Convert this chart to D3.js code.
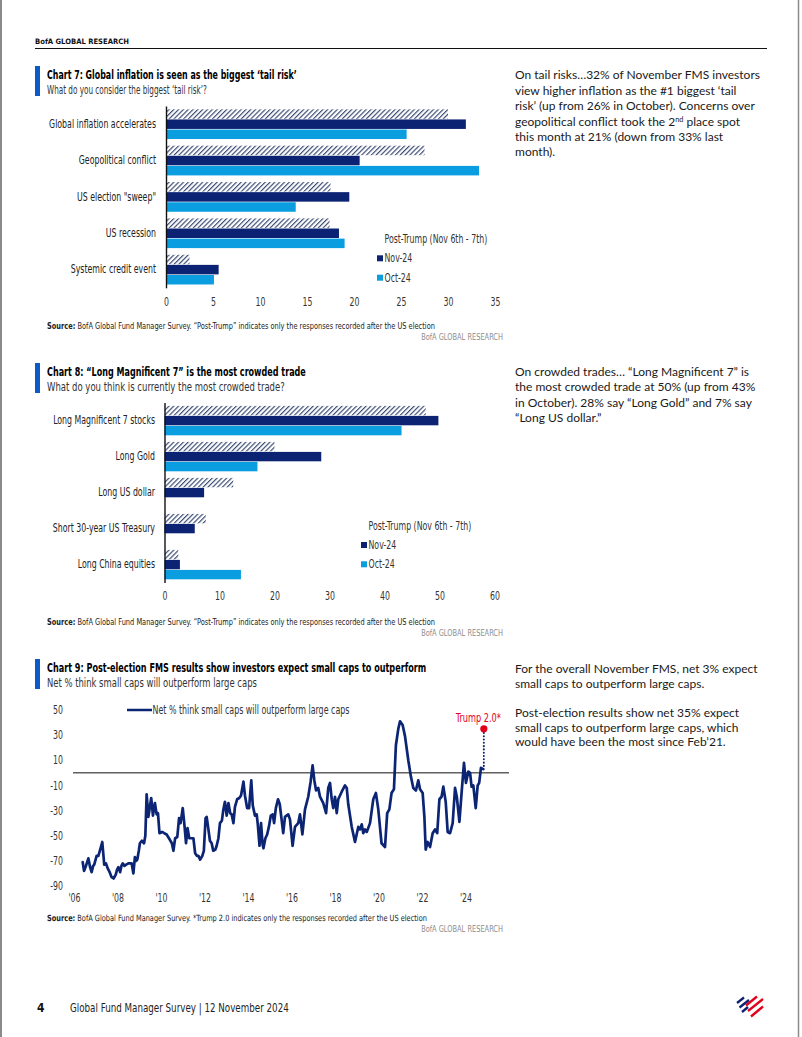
<!DOCTYPE html>
<html><head><meta charset="utf-8">
<script src="https://cdn.jsdelivr.net/npm/d3@7"></script>
<style>
body{margin:0;background:#fff;}
svg{display:block;}
</style></head>
<body><svg id="page" width="802" height="1037"></svg>
<script>
// ---------------- DATA ----------------
const chart7Categories = ["Global inflation accelerates", "Geopolitical conflict", "US election \"sweep\"", "US recession", "Systemic credit event"];
const chart7PostTrump = [30.0, 27.5, 17.5, 17.4, 2.5];
const chart7Nov24     = [31.9, 20.6, 19.5, 18.4, 5.6];
const chart7Oct24     = [25.6, 33.3, 13.8, 19.0, 5.1];
const chart7Ticks = [0, 5, 10, 15, 20, 25, 30, 35];

const chart8Categories = ["Long Magnificent 7 stocks", "Long Gold", "Long US dollar", "Short 30-year US Treasury", "Long China equities"];
const chart8PostTrump = [47.5, 20.0, 12.5, 7.5, 2.5];
const chart8Nov24     = [49.8, 28.5, 7.2, 5.5, 2.8];
const chart8Oct24     = [43.1, 16.9, 0, 0, 13.9];
const chart8Ticks = [0, 10, 20, 30, 40, 50, 60];

const seriesNames = ["Post-Trump (Nov 6th - 7th)", "Nov-24", "Oct-24"];

const chart9Years = [
 2006.40,2006.46,2006.55,2006.66,2006.74,2006.81,2006.88,2006.93,2007.04,2007.12,2007.22,2007.30,2007.39,2007.47,2007.55,2007.64,2007.73,2007.82,2007.92,2007.98,
 2008.04,2008.12,2008.18,2008.24,2008.32,2008.40,2008.50,2008.57,2008.65,2008.73,2008.80,2008.86,2008.91,2008.98,2009.03,2009.12,2009.22,2009.28,2009.34,2009.42,
 2009.48,2009.55,2009.63,2009.72,2009.80,2009.86,2009.93,2010.05,2010.15,2010.26,2010.40,2010.50,2010.57,2010.65,2010.75,2010.83,2010.90,2011.00,2011.08,2011.15,
 2011.22,2011.30,2011.40,2011.49,2011.57,2011.65,2011.72,2011.80,2011.90,2011.97,2012.05,2012.10,2012.18,2012.25,2012.33,2012.40,2012.50,2012.56,2012.64,2012.71,
 2012.80,2012.86,2012.94,2013.02,2013.10,2013.18,2013.25,2013.33,2013.40,2013.50,2013.60,2013.68,2013.79,2013.86,2013.96,2014.05,2014.15,2014.22,2014.32,2014.40,
 2014.45,2014.53,2014.60,2014.67,2014.71,2014.80,2014.88,2014.96,2015.05,2015.14,2015.20,2015.28,2015.38,2015.46,2015.62,2015.70,2015.85,2015.93,2016.05,2016.16,
 2016.31,2016.39,2016.50,2016.62,2016.77,2016.88,2016.97,2017.05,2017.13,2017.23,2017.31,2017.46,2017.59,2017.69,2017.77,2017.85,2017.92,2018.00,2018.08,2018.15,
 2018.31,2018.46,2018.54,2018.61,2018.77,2018.92,2019.07,2019.15,2019.23,2019.30,2019.38,2019.46,2019.61,2019.76,2019.88,2019.99,2020.14,2020.30,2020.40,2020.50,
 2020.60,2020.71,2020.80,2020.91,2020.99,2021.11,2021.22,2021.37,2021.49,2021.60,2021.72,2021.83,2021.91,2022.03,2022.11,2022.17,2022.26,2022.37,2022.49,2022.60,
 2022.70,2022.80,2022.90,2022.98,2023.09,2023.18,2023.29,2023.41,2023.52,2023.60,2023.72,2023.82,2023.93,2024.02,2024.13,2024.21,2024.28,2024.36,2024.47,2024.56,
 2024.63,2024.71,2024.82
];
const chart9NetPct = [
 -71,-78,-74,-68,-75,-79,-74,-73,-66,-66,-60,-55,-73,-72,-76,-79,-83,-84,-81,-77,
 -75,-79,-74,-72,-74,-73,-72,-72,-72,-80,-67,-70,-69,-62,-56,-54,-56,-50,-17,-35,
 -28,-20,-34,-24,-33,-32,-48,-47,-48,-49,-53,-56,-62,-52,-51,-36,-40,-28,-42,-56,
 -44,-52,-52,-52,-64,-66,-66,-69,-66,-62,-36,-35,-45,-54,-56,-62,-61,-58,-52,-40,
 -38,-30,-23,-34,-24,-32,-33,-40,-27,-21,-20,-18,-7,-18,-28,-28,-6,-26,-34,-33,
 -41,-58,-40,-57,-60,-52,-49,-43,-34,-33,-40,-28,-21,-25,-48,-35,-33,-37,-58,-43,
 -40,-33,-49,-29,-19,-7,6,-6,-14,-12,-19,-24,-32,-12,-8,-21,-28,-19,-32,-21,
 -15,-10,-12,-25,-43,-55,-43,-45,-41,-48,-45,-47,-40,-21,-16,-29,-56,-59,-32,-29,
 -16,-13,22,35,41,38,29,10,-3,-12,-14,-6,-13,-16,-35,-61,-55,-59,-48,-45,
 -48,-21,-19,-11,-23,-47,-48,-40,-12,-19,-39,-16,8,-8,1,0,-11,-10,-28,-10,
 -8,4,3
];
const chart9YTicks = [50, 30, 10, -10, -30, -50, -70, -90];
const chart9XTicks = [2006, 2008, 2010, 2012, 2014, 2016, 2018, 2020, 2022, 2024];
const trump2Value = 35;
const chart9LegendLabel = "Net % think small caps will outperform large caps";

// ---------------- STYLE ----------------
const NAVY = "#0c2272", BLUE = "#0a9ee0", ACCENT = "#0a5bc8", RED = "#e3001b", LINE = "#0c2474";
const NARROW = '"Liberation Sans Narrow","Arial Narrow","DejaVu Sans Condensed",sans-serif';
const BODY = 'Lato,"Open Sans",sans-serif';

const svg = d3.select("#page");
svg.append("rect").attr("width", 802).attr("height", 1037).attr("fill", "#fff");

const defs = svg.append("defs");
const pat = defs.append("pattern").attr("id", "hatch").attr("patternUnits", "userSpaceOnUse")
  .attr("width", 3.4).attr("height", 3.4).attr("patternTransform", "rotate(45)");
pat.append("rect").attr("width", 3.4).attr("height", 3.4).attr("fill", "#fff");
pat.append("line").attr("x1", 0.6).attr("y1", 0).attr("x2", 0.6).attr("y2", 3.4).attr("stroke", "#34456f").attr("stroke-width", 1.15);

// condense factor for narrow font
const probe = svg.append("text").attr("font-family", NARROW).attr("font-size", 11.5).text("Global inflation accelerates");
const CF = Math.min(1, 107 / probe.node().getComputedTextLength());
probe.remove();

// horizontal squeeze via transform (keeps glyph height, narrows width)
function squeeze(sel, f) {
  sel.each(function () {
    const s = d3.select(this);
    const x = +s.attr("x") || 0, y = +s.attr("y") || 0;
    s.attr("x", 0).attr("y", 0).attr("transform", `translate(${x},${y}) scale(${f},1)`);
  });
}
function condense(sel, f) { squeeze(sel, f); }
function fit(sel, w) {
  sel.each(function () {
    const n = this.getComputedTextLength();
    squeeze(d3.select(this), w / n);
  });
}

// page border
svg.append("line").attr("x1", 1).attr("x2", 1).attr("y1", 0).attr("y2", 1037).attr("stroke", "#8a8a8a").attr("stroke-width", 2);
svg.append("line").attr("x1", 798.5).attr("x2", 798.5).attr("y1", 0).attr("y2", 1037).attr("stroke", "#8a8a8a").attr("stroke-width", 1.5);

// header
svg.append("text").attr("x", 35).attr("y", 43.8).attr("font-family", '"DejaVu Sans",sans-serif').attr("font-weight", "bold")
  .attr("font-size", 7.4).attr("fill", "#111").text("BofA GLOBAL RESEARCH").call(fit, 94);
svg.append("line").attr("x1", 35).attr("x2", 767).attr("y1", 48.5).attr("y2", 48.5).attr("stroke", "#111").attr("stroke-width", 1);

// ---------------- helpers ----------------
function titleBlock(top, title, titleW, sub, subW) {
  svg.append("rect").attr("x", 35).attr("y", top).attr("width", 5).attr("height", 30).attr("fill", ACCENT);
  svg.append("text").attr("x", 47).attr("y", top + 13.4).attr("font-family", NARROW).attr("font-weight", "bold")
    .attr("font-size", 12.5).attr("fill", "#000").text(title).call(fit, titleW);
  svg.append("text").attr("x", 47).attr("y", top + 27.5).attr("font-family", NARROW)
    .attr("font-size", 12).attr("fill", "#333").text(sub).call(fit, subW);
}
function sourceBlock(y, rest, w) {
  const t = svg.append("text").attr("x", 47).attr("y", y).attr("font-family", NARROW).attr("font-size", 8.6).attr("fill", "#222");
  t.append("tspan").attr("font-weight", "bold").text("Source:");
  t.append("tspan").text(" " + rest);
  fit(t, w);
  svg.append("text").attr("x", 503).attr("y", y + 11.6).attr("text-anchor", "end").attr("font-family", NARROW)
    .attr("font-size", 8.6).attr("fill", "#8c8c8c").text("BofA GLOBAL RESEARCH").call(fit, 82);
}

function barChart(cfg) {
  const g = svg.append("g");
  const x = d3.scaleLinear().domain([0, d3.max(cfg.ticks)]).range([cfg.x0, cfg.x1]);
  const y = d3.scaleBand().domain(cfg.categories).range([cfg.top, cfg.bottom]).paddingInner(0.183).paddingOuter(0.0915);
  const keys = ["post", "nov", "oct"];
  const yy = d3.scaleBand().domain(keys).range([0, y.bandwidth()]).paddingInner(0.06);
  const fills = { post: "url(#hatch)", nov: NAVY, oct: BLUE };
  const rows = cfg.categories.map((c, i) => ({ c, post: cfg.post[i], nov: cfg.nov[i], oct: cfg.oct[i] }));
  const grp = g.selectAll("g.cat").data(rows).join("g").attr("class", "cat")
    .attr("transform", d => `translate(0,${y(d.c)})`);
  grp.selectAll("rect").data(d => keys.map(k => ({ k, v: d[k] })).filter(e => e.v > 0)).join("rect")
    .attr("x", x(0)).attr("y", e => yy(e.k)).attr("height", yy.bandwidth())
    .attr("width", e => x(e.v) - x(0)).attr("fill", e => fills[e.k]);

  const ax = g.append("g").attr("transform", `translate(${x(0)},0)`)
    .call(d3.axisLeft(y).tickSize(0).tickSizeOuter(0).tickPadding(cfg.labelPad));
  ax.attr("font-family", null).attr("font-size", null);
  ax.select(".domain").attr("stroke", "#111").attr("stroke-width", 1.4);
  ax.selectAll("text").attr("font-family", NARROW).attr("font-size", 11.5).attr("fill", "#222").call(condense, CF);

  const bx = g.append("g").attr("transform", `translate(0,${cfg.tickY})`)
    .call(d3.axisBottom(x).tickValues(cfg.ticks).tickSize(0).tickPadding(0));
  bx.attr("font-family", null).attr("font-size", null);
  bx.select(".domain").remove();
  bx.selectAll("text").attr("y", 0).attr("dy", "0.35em").attr("font-family", NARROW).attr("font-size", 11.5).attr("fill", "#333").call(condense, CF);

  // legend
  const lg = g.append("g");
  const legendRows = [
    { label: seriesNames[0], fill: null, y: cfg.legY[0] },
    { label: seriesNames[1], fill: NAVY, y: cfg.legY[1] },
    { label: seriesNames[2], fill: BLUE, y: cfg.legY[2] }
  ];
  legendRows.forEach(r => {
    if (r.fill) lg.append("rect").attr("x", cfg.legX - 7.5).attr("y", r.y - 3).attr("width", 6).attr("height", 6).attr("fill", r.fill);
    lg.append("text").attr("x", cfg.legX).attr("y", r.y).attr("dy", "0.35em").attr("font-family", NARROW)
      .attr("font-size", 11.5).attr("fill", "#333").text(r.label).call(condense, CF);
  });
}

// ---------------- CHART 7 ----------------
titleBlock(66, "Chart 7: Global inflation is seen as the biggest \u2018tail risk\u2019", 250,
  "What do you consider the biggest \u2018tail risk\u2019?", 160);
barChart({ categories: chart7Categories, post: chart7PostTrump, nov: chart7Nov24, oct: chart7Oct24, ticks: chart7Ticks,
  x0: 166, x1: 495, top: 106, bottom: 287.8, tickY: 301.7, labelPad: 10, legX: 384.5, legY: [239.3, 258.3, 277.7] });
sourceBlock(328.6, "BofA Global Fund Manager Survey. \u201cPost-Trump\u201d indicates only the responses recorded after the US election", 388);

// ---------------- CHART 8 ----------------
titleBlock(363, "Chart 8: \u201cLong Magnificent 7\u201d is the most crowded trade", 259,
  "What do you think is currently the most crowded trade?", 238);
barChart({ categories: chart8Categories, post: chart8PostTrump, nov: chart8Nov24, oct: chart8Oct24, ticks: chart8Ticks,
  x0: 164.5, x1: 494.5, top: 402.6, bottom: 582.6, tickY: 595.7, labelPad: 9.5, legX: 368.5, legY: [525.7, 545, 564.3] });
sourceBlock(624.6, "BofA Global Fund Manager Survey. \u201cPost-Trump\u201d indicates only the responses recorded after the US election", 388);

// ---------------- CHART 9 ----------------
titleBlock(659, "Chart 9: Post-election FMS results show investors expect small caps to outperform", 380,
  "Net % think small caps will outperform large caps", 210);
{
  const g = svg.append("g");
  const x = d3.scaleLinear().domain([2006, 2026]).range([74, 509]);
  const y = d3.scaleLinear().domain([-90, 50]).range([886, 710]);
  // zero line
  g.append("line").attr("x1", x.range()[0] - 1).attr("x2", x.range()[1]).attr("y1", y(0)).attr("y2", y(0))
    .attr("stroke", "#111").attr("stroke-width", 1);
  const ya = g.append("g").attr("transform", `translate(${x.range()[0] - 1},0)`)
    .call(d3.axisLeft(y).tickValues(chart9YTicks).tickFormat(d => String(d)).tickSize(0).tickPadding(10));
  ya.attr("font-family", null).attr("font-size", null);
  ya.select(".domain").remove();
  ya.selectAll("text").attr("font-family", NARROW).attr("font-size", 11.5).attr("fill", "#333").call(condense, CF);
  const xa = g.append("g").attr("transform", `translate(0,898)`)
    .call(d3.axisBottom(x).tickValues(chart9XTicks).tickFormat(d => "'" + String(d).slice(2)).tickSize(0).tickPadding(0));
  xa.attr("font-family", null).attr("font-size", null);
  xa.select(".domain").remove();
  xa.selectAll("text").attr("y", 0).attr("dy", "0.35em").attr("font-family", NARROW).attr("font-size", 11.5).attr("fill", "#333").call(condense, CF);

  const pts = chart9Years.map((yr, i) => [yr, chart9NetPct[i]]);
  g.append("path").datum(pts).attr("fill", "none").attr("stroke", LINE).attr("stroke-width", 2.7)
    .attr("stroke-linejoin", "round").attr("stroke-linecap", "round").attr("d", d3.line().x(d => x(d[0])).y(d => y(d[1])));

  const last = pts[pts.length - 1];
  g.append("line").attr("x1", x(last[0]) + 0.5).attr("x2", x(last[0]) + 0.5).attr("y1", y(trump2Value) + 4).attr("y2", y(last[1]) - 2)
    .attr("stroke", LINE).attr("stroke-width", 2).attr("stroke-dasharray", "0.1 3.2").attr("stroke-linecap", "round");
  g.append("circle").attr("cx", x(last[0]) + 0.5).attr("cy", y(trump2Value)).attr("r", 3.6).attr("fill", RED);
  g.append("text").attr("x", x(last[0]) - 5).attr("y", y(trump2Value) - 11).attr("dy", "0.35em").attr("text-anchor", "middle")
    .attr("font-family", NARROW).attr("font-size", 12).attr("fill", RED).text("Trump 2.0*").call(condense, CF);

  // legend
  g.append("line").attr("x1", 127).attr("x2", 152).attr("y1", 710).attr("y2", 710).attr("stroke", LINE).attr("stroke-width", 2.5);
  g.append("text").attr("x", 152.5).attr("y", 710).attr("dy", "0.35em").attr("font-family", NARROW).attr("font-size", 11.5)
    .attr("fill", "#333").text(chart9LegendLabel).call(fit, 197);
}
sourceBlock(920.6, "BofA Global Fund Manager Survey. *Trump 2.0 indicates only the responses recorded after the US election", 380);

// ---------------- RIGHT COLUMN TEXT ----------------
function para(lines, y0, step) {
  const texts = [];
  lines.forEach((ln, i) => {
    const t = svg.append("text").attr("x", 515).attr("y", y0 + i * step).attr("font-family", BODY).attr("font-size", 12.3).attr("fill", "#1a1a1a");
    if (Array.isArray(ln)) {
      ln.forEach(seg => {
        const ts = t.append("tspan").text(seg.t);
        if (seg.sup) ts.attr("font-size", 7.5).attr("dy", -4);
        if (seg.after) ts.attr("dy", 4);
      });
    } else t.text(ln);
    texts.push(t);
  });
  return texts;
}
const p1 = para([
  "On tail risks\u202632% of November FMS investors",
  "view higher inflation as the #1 biggest \u2018tail",
  "risk\u2019 (up from 26% in October). Concerns over",
  [{ t: "geopolitical conflict took the 2" }, { t: "nd", sup: true }, { t: " place spot", after: true }],
  "this month at 21% (down from 33% last",
  "month)."
], 79.3, 15.4);
const bodyCF = Math.min(1.05, 245 / p1[0].node().getComputedTextLength());
const p2 = para([
  "On crowded trades\u2026 \u201cLong Magnificent 7\u201d is",
  "the most crowded trade at 50% (up from 43%",
  "in October). 28% say \u201cLong Gold\u201d and 7% say",
  "\u201cLong US dollar.\u201d"
], 375.9, 15.4);
const p3 = para([
  "For the overall November FMS, net 3% expect",
  "small caps to outperform large caps."
], 672.5, 15.4);
const p4 = para([
  "Post-election results show net 35% expect",
  "small caps to outperform large caps, which",
  "would have been the most since Feb\u201921."
], 717, 14.6);
[...p1, ...p2, ...p3, ...p4].forEach(t => condense(t, bodyCF));

// ---------------- FOOTER ----------------
svg.append("text").attr("x", 37).attr("y", 1012).attr("font-family", NARROW).attr("font-weight", "bold").attr("font-size", 12).attr("fill", "#111").text("4");
svg.append("text").attr("x", 70).attr("y", 1012).attr("font-family", NARROW).attr("font-size", 12).attr("fill", "#222")
  .text("Global Fund Manager Survey | 12 November 2024").call(fit, 219);
// BofA flag logo (approximation)
const logo = svg.append("g");
const stripes = [
  { a: [737, 1003], b: [744, 997.5], c: NAVY },
  { a: [739.5, 1007.5], b: [749, 1000], c: NAVY },
  { a: [742, 1012], b: [748, 1007], c: NAVY },
  { a: [746, 1005.5], b: [757, 996.5], c: RED },
  { a: [748, 1011], b: [763, 999], c: RED },
  { a: [751, 1016.5], b: [763, 1006.5], c: RED }
];
stripes.forEach(s => logo.append("line").attr("x1", s.a[0]).attr("y1", s.a[1]).attr("x2", s.b[0]).attr("y2", s.b[1])
  .attr("stroke", s.c).attr("stroke-width", 2.3));
</script>
</body></html>
